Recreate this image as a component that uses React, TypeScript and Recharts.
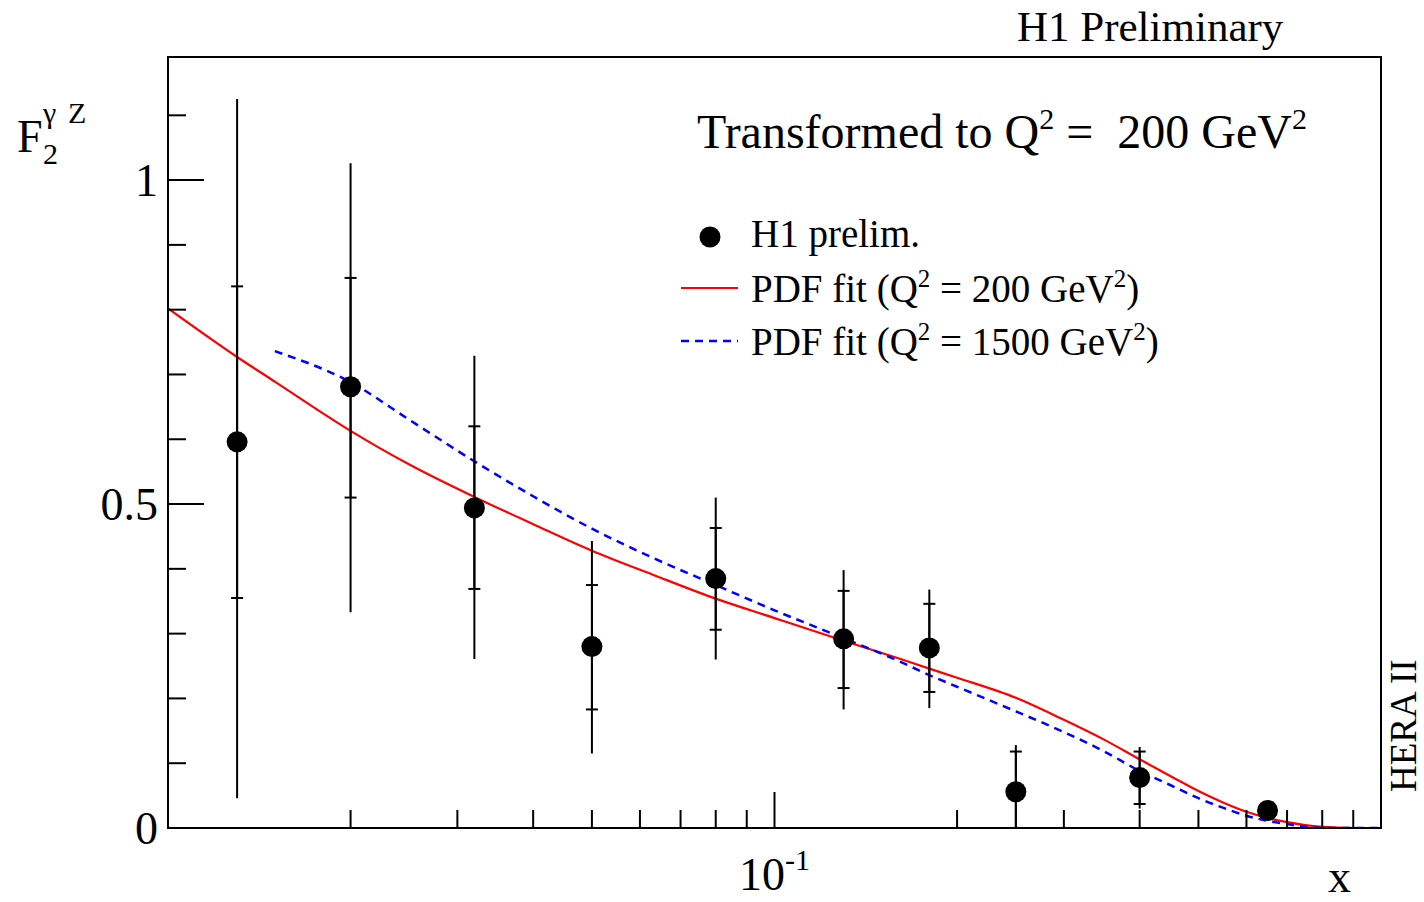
import React from 'react';
import { ComposedChart, Line, Scatter, XAxis, YAxis, ErrorBar, ReferenceArea } from 'recharts';

const FONT = '"Liberation Serif", "Times New Roman", Times, serif';

// H1 preliminary measurements
const xPoints = [0.013, 0.02, 0.032, 0.05, 0.08, 0.13, 0.18, 0.25, 0.4, 0.65];
const yPoints = [0.596, 0.681, 0.494, 0.28, 0.385, 0.292, 0.278, 0.056, 0.078, 0.027];
const totHigh = [1.125, 1.026, 0.729, 0.443, 0.51, 0.398, 0.368, 0.128, 0.125, 0.036];
const totLow = [0.046, 0.333, 0.261, 0.115, 0.26, 0.183, 0.185, 0.0, 0.03, 0.018];
const statHigh = [0.836, 0.849, 0.62, 0.375, 0.463, 0.366, 0.346, 0.118, 0.118, 0.033];
const statLow = [0.355, 0.51, 0.369, 0.183, 0.306, 0.216, 0.21, 0.0, 0.037, 0.021];

// PDF fit curves
const curveX = [0.01, 0.013, 0.015, 0.02, 0.025, 0.032, 0.04, 0.05, 0.063, 0.08, 0.1, 0.13, 0.16, 0.18, 0.2, 0.25, 0.3, 0.35, 0.4, 0.45, 0.5, 0.55, 0.6, 0.65, 0.7, 0.75, 0.8, 0.9, 1.0];
const fit200 = [0.802, 0.727, 0.689, 0.613, 0.561, 0.511, 0.469, 0.428, 0.391, 0.354, 0.324, 0.289, 0.262, 0.246, 0.232, 0.201, 0.167, 0.136, 0.106, 0.08, 0.057, 0.039, 0.025, 0.0155, 0.009, 0.0045, 0.0018, 0.0, 0.0];
const fit1500 = [null, null, 0.736, 0.688, 0.63, 0.566, 0.512, 0.462, 0.417, 0.375, 0.336, 0.293, 0.258, 0.236, 0.218, 0.18, 0.148, 0.118, 0.088, 0.066, 0.046, 0.031, 0.019, 0.011, 0.006, 0.002, 0.0, 0.0, 0.0];

// axis ticks
const xMajorTicks = [0.1];
const xMinorTicks = [0.02, 0.03, 0.04, 0.05, 0.06, 0.07, 0.08, 0.09, 0.2, 0.3, 0.4, 0.5, 0.6, 0.7, 0.8, 0.9];
const yMajorTicks = [0, 0.5, 1];
const yMinorTicks = [0.1, 0.2, 0.3, 0.4, 0.6, 0.7, 0.8, 0.9, 1.1];

const scatterData = xPoints.map((x, i) => ({
  x,
  y: yPoints[i],
  tot: [yPoints[i] - totLow[i], totHigh[i] - yPoints[i]],
  stat: [yPoints[i] - statLow[i], statHigh[i] - yPoints[i]],
}));

const curveData = curveX.map((x, i) => ({ x, red: fit200[i], blue: fit1500[i] }));

const XTick = (props: any) => {
  const { x, y, payload } = props;
  const exp = Math.round(Math.log10(payload.value));
  return (
    <text x={x} y={y} textAnchor="middle" fontFamily={FONT} fontSize={46} fill="#000">
      10
      <tspan dy={-20} fontSize={30}>{String(exp)}</tspan>
    </text>
  );
};

const YTick = (props: any) => {
  const { x, y, payload } = props;
  return (
    <text x={x} y={y} dy={16} textAnchor="end" fontFamily={FONT} fontSize={46} fill="#000">
      {String(payload.value)}
    </text>
  );
};

const EmptyTick = () => <g />;

const Dot = (p: any) => <circle cx={p.cx} cy={p.cy} r={10.5} fill="#000" />;

export default function App() {
  return (
    <div style={{ position: 'absolute', left: 0, top: 0, width: 1424, height: 902, background: '#fff' }}>
      <ComposedChart
        width={1424}
        height={902}
        margin={{ top: 57, right: 43, bottom: 72, left: 166 }}
      >
        <XAxis
          xAxisId="maj"
          dataKey="x"
          type="number"
          scale="log"
          domain={[0.01, 1]}
          allowDataOverflow
          ticks={xMajorTicks}
          interval={0}
          height={1}
          tickSize={-36}
          tickMargin={98}
          axisLine={{ stroke: '#000', strokeWidth: 2 }}
          tickLine={{ stroke: '#000', strokeWidth: 2 }}
          tick={<XTick />}
        />
        <XAxis
          xAxisId="min"
          dataKey="x"
          type="number"
          scale="log"
          domain={[0.01, 1]}
          allowDataOverflow
          ticks={xMinorTicks}
          interval={0}
          height={1}
          tickSize={-19}
          axisLine={false}
          tickLine={{ stroke: '#000', strokeWidth: 2 }}
          tick={<EmptyTick />}
        />
        <YAxis
          yAxisId="maj"
          type="number"
          domain={[0, 1.19]}
          allowDataOverflow
          ticks={yMajorTicks}
          interval={0}
          width={1}
          tickSize={-36}
          tickMargin={46}
          axisLine={{ stroke: '#000', strokeWidth: 2 }}
          tickLine={{ stroke: '#000', strokeWidth: 2 }}
          tick={<YTick />}
        />
        <YAxis
          yAxisId="min"
          type="number"
          domain={[0, 1.19]}
          allowDataOverflow
          ticks={yMinorTicks}
          interval={0}
          width={1}
          tickSize={-19}
          axisLine={false}
          tickLine={{ stroke: '#000', strokeWidth: 2 }}
          tick={<EmptyTick />}
        />
        <ReferenceArea
          xAxisId="maj"
          yAxisId="maj"
          x1={0.01}
          x2={1}
          y1={0}
          y2={1.19}
          fill="none"
          fillOpacity={0}
          stroke="#000"
          strokeWidth={2}
          ifOverflow="visible"
        />
        <Line
          xAxisId="maj"
          yAxisId="maj"
          data={curveData}
          dataKey="red"
          type="monotone"
          stroke="#ff0000"
          strokeWidth={2.2}
          dot={false}
          activeDot={false}
          isAnimationActive={false}
        />
        <Line
          xAxisId="maj"
          yAxisId="maj"
          data={curveData}
          dataKey="blue"
          type="monotone"
          stroke="#0000ff"
          strokeWidth={2.5}
          strokeDasharray="8 6"
          dot={false}
          activeDot={false}
          connectNulls={false}
          isAnimationActive={false}
        />
        <Scatter
          xAxisId="maj"
          yAxisId="maj"
          data={scatterData}
          dataKey="y"
          fill="#000"
          shape={<Dot />}
          isAnimationActive={false}
        >
          <ErrorBar dataKey="tot" direction="y" width={0} stroke="#000" strokeWidth={2} isAnimationActive={false} />
          <ErrorBar dataKey="stat" direction="y" width={6} stroke="#000" strokeWidth={2} isAnimationActive={false} />
        </Scatter>
      </ComposedChart>
      <svg
        width={1424}
        height={902}
        style={{ position: 'absolute', left: 0, top: 0, pointerEvents: 'none' }}
        fontFamily={FONT}
      >
        <text x={1017} y={41} fontSize={43} fill="#000">H1 Preliminary</text>
        <text x={697} y={148} fontSize={48} fill="#000">
          Transformed to Q<tspan dy={-19} fontSize={30}>2</tspan>
          <tspan dy={19}>{'\u00a0=\u00a0\u00a0200 GeV'}</tspan>
          <tspan dy={-19} fontSize={30}>2</tspan>
        </text>
        {/* legend */}
        <circle cx={710} cy={237} r={10.5} fill="#000" />
        <text x={751} y={247} fontSize={39} fill="#000">H1 prelim.</text>
        <line x1={681} x2={738} y1={288} y2={288} stroke="#ff0000" strokeWidth={2.2} />
        <text x={751} y={302} fontSize={39} fill="#000">
          PDF fit (Q<tspan dy={-15} fontSize={25}>2</tspan>
          <tspan dy={15}>{'\u00a0= 200 GeV'}</tspan>
          <tspan dy={-15} fontSize={25}>2</tspan>
          <tspan dy={15}>)</tspan>
        </text>
        <line x1={681} x2={738} y1={341} y2={341} stroke="#0000ff" strokeWidth={2.5} strokeDasharray="8 6" />
        <text x={751} y={355} fontSize={39} fill="#000">
          PDF fit (Q<tspan dy={-15} fontSize={25}>2</tspan>
          <tspan dy={15}>{'\u00a0= 1500 GeV'}</tspan>
          <tspan dy={-15} fontSize={25}>2</tspan>
          <tspan dy={15}>)</tspan>
        </text>
        {/* y-axis title */}
        <text x={17} y={152} fontSize={46} fill="#000">F</text>
        <text x={43} y={164} fontSize={30} fill="#000">2</text>
        <text x={43} y={123} fontSize={30} fill="#000">γ</text>
        <text x={68} y={123} fontSize={30} fill="#000">Z</text>
        {/* x-axis title */}
        <text x={1328} y={892} fontSize={46} fill="#000">x</text>
        <text x={1416} y={792} fontSize={37} fill="#000" transform="rotate(-90 1416 792)">HERA II</text>
      </svg>
    </div>
  );
}
